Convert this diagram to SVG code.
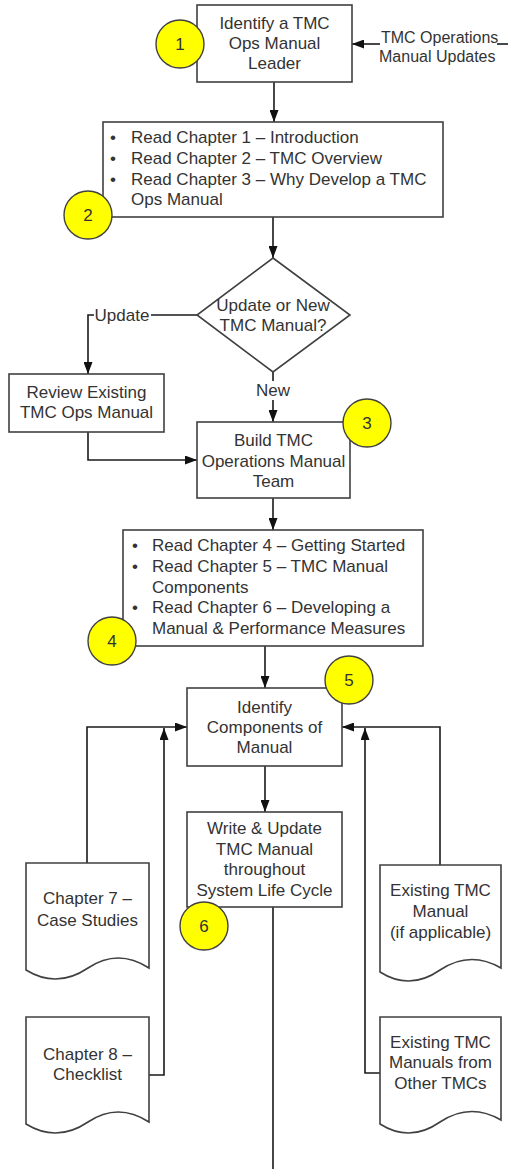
<svg xmlns="http://www.w3.org/2000/svg" width="510" height="1169" viewBox="0 0 510 1169">
<style>
.box{fill:#fff;stroke:#404040;stroke-width:1.6}
.num{fill:#ffff00;stroke:#404040;stroke-width:1.4}
.t{font-family:"Liberation Sans",Arial,sans-serif;font-size:17px;fill:#333}
.c{text-anchor:middle}
.ln{fill:none;stroke:#1a1a1a;stroke-width:1.6}
</style>
<defs>
<marker id="ah" viewBox="0 0 12 9" refX="12" refY="4.5" markerWidth="12" markerHeight="9" markerUnits="userSpaceOnUse" orient="auto">
<path d="M0,0 L12,4.5 L0,9 z" fill="#111"/>
</marker>
</defs>
<rect width="510" height="1169" fill="#fff"/>

<g id="connectors">
<path class="ln" d="M380,44 H352" marker-end="url(#ah)"/>
<path class="ln" d="M497,44 H508"/>
<path class="ln" d="M274,82 V122" marker-end="url(#ah)"/>
<path class="ln" d="M273,217 V258" marker-end="url(#ah)"/>
<path class="ln" d="M197,315 H151"/>
<path class="ln" d="M94,315 H88 V374" marker-end="url(#ah)"/>
<path class="ln" d="M273,372 V381"/>
<path class="ln" d="M273,400 V422" marker-end="url(#ah)"/>
<path class="ln" d="M88,432 V460 H197" marker-end="url(#ah)"/>
<path class="ln" d="M273,498 V530" marker-end="url(#ah)"/>
<path class="ln" d="M265,646 V688" marker-end="url(#ah)"/>
<path class="ln" d="M265,766 V812" marker-end="url(#ah)"/>
<path class="ln" d="M273,907 V1169"/>
<path class="ln" d="M87,863 V727 H187" marker-end="url(#ah)"/>
<path class="ln" d="M149,1075 H164 V728" marker-end="url(#ah)"/>
<path class="ln" d="M440,865 V727 H342" marker-end="url(#ah)"/>
<path class="ln" d="M380,1073 H365 V728" marker-end="url(#ah)"/>
</g>

<g id="n1">
<rect class="box" x="197" y="5" width="155" height="77"/>
<text class="t c" x="274.5" y="29">Identify a TMC</text>
<text class="t c" x="274.5" y="49">Ops Manual</text>
<text class="t c" x="274.5" y="69">Leader</text>
</g>

<g id="updates-label">
<text class="t" style="font-size:16px" x="381" y="43">TMC Operations</text>
<text class="t" style="font-size:16px" x="379" y="62">Manual Updates</text>
</g>

<g id="n2">
<rect class="box" x="103" y="122" width="340" height="95"/>
<text class="t" x="110" y="143">•</text>
<text class="t" x="131" y="143">Read Chapter 1 – Introduction</text>
<text class="t" x="110" y="164">•</text>
<text class="t" x="131" y="164">Read Chapter 2 – TMC Overview</text>
<text class="t" x="110" y="184.5">•</text>
<text class="t" x="131" y="184.5">Read Chapter 3 – Why Develop a TMC</text>
<text class="t" x="131" y="205">Ops Manual</text>
</g>

<g id="decision">
<polygon class="box" points="273,258 350,315 273,372 197,315"/>
<text class="t c" x="273" y="311">Update or New</text>
<text class="t c" x="273" y="331">TMC Manual?</text>
</g>

<g id="label-update"><text class="t c" x="122" y="321">Update</text></g>
<g id="label-new"><text class="t c" x="273" y="396">New</text></g>

<g id="review">
<rect class="box" x="9" y="374" width="155" height="58"/>
<text class="t c" x="86.5" y="398">Review Existing</text>
<text class="t c" x="86.5" y="418">TMC Ops Manual</text>
</g>

<g id="n3">
<rect class="box" x="197" y="422" width="153" height="76"/>
<text class="t c" x="273.5" y="446">Build TMC</text>
<text class="t c" x="273.5" y="466.5">Operations Manual</text>
<text class="t c" x="273.5" y="487">Team</text>
</g>

<g id="n4">
<rect class="box" x="123" y="530" width="300" height="116"/>
<text class="t" x="132" y="551">•</text>
<text class="t" x="152" y="551">Read Chapter 4 – Getting Started</text>
<text class="t" x="132" y="572">•</text>
<text class="t" x="152" y="572">Read Chapter 5 – TMC Manual</text>
<text class="t" x="152" y="592.5">Components</text>
<text class="t" x="132" y="613">•</text>
<text class="t" x="152" y="613">Read Chapter 6 – Developing a</text>
<text class="t" x="152" y="633.5">Manual &amp; Performance Measures</text>
</g>

<g id="n5">
<rect class="box" x="187" y="688" width="155" height="78"/>
<text class="t c" x="264.5" y="713">Identify</text>
<text class="t c" x="264.5" y="733">Components of</text>
<text class="t c" x="264.5" y="753">Manual</text>
</g>

<g id="n6">
<rect class="box" x="187" y="812" width="155" height="95"/>
<text class="t c" x="264.5" y="834">Write &amp; Update</text>
<text class="t c" x="264.5" y="854.5">TMC Manual</text>
<text class="t c" x="264.5" y="875">throughout</text>
<text class="t c" x="264.5" y="895.5">System Life Cycle</text>
</g>

<g id="doc-ch7">
<path class="box" d="M26,863 H149 V968 Q118,948 88,968 Q57,989 26,970 Z"/>
<text class="t c" x="87.5" y="904">Chapter 7 –</text>
<text class="t c" x="87.5" y="926">Case Studies</text>
</g>

<g id="doc-ch8">
<path class="box" d="M26,1017 H149 V1122 Q118,1102 88,1122 Q57,1143 26,1124 Z"/>
<text class="t c" x="87.5" y="1060">Chapter 8 –</text>
<text class="t c" x="87.5" y="1080">Checklist</text>
</g>

<g id="doc-existing">
<path class="box" d="M380,865 H501 V968 Q470,950 440,970 Q410,991 380,972 Z"/>
<text class="t c" x="440.5" y="896">Existing TMC</text>
<text class="t c" x="440.5" y="917">Manual</text>
<text class="t c" x="440.5" y="938">(if applicable)</text>
</g>

<g id="doc-others">
<path class="box" d="M380,1017 H501 V1120 Q470,1102 440,1122 Q410,1143 380,1124 Z"/>
<text class="t c" x="440.5" y="1048">Existing TMC</text>
<text class="t c" x="440.5" y="1068">Manuals from</text>
<text class="t c" x="440.5" y="1089">Other TMCs</text>
</g>

<g id="step1"><circle class="num" cx="180" cy="44" r="24"/><text class="t c" x="180" y="50">1</text></g>
<g id="step2"><circle class="num" cx="88" cy="215" r="24"/><text class="t c" x="88" y="221">2</text></g>
<g id="step3"><circle class="num" cx="367" cy="423" r="24"/><text class="t c" x="367" y="429">3</text></g>
<g id="step4"><circle class="num" cx="112" cy="641" r="24"/><text class="t c" x="112" y="647">4</text></g>
<g id="step5"><circle class="num" cx="349" cy="680" r="24"/><text class="t c" x="349" y="686">5</text></g>
<g id="step6"><circle class="num" cx="204" cy="926" r="24"/><text class="t c" x="204" y="932">6</text></g>
</svg>
